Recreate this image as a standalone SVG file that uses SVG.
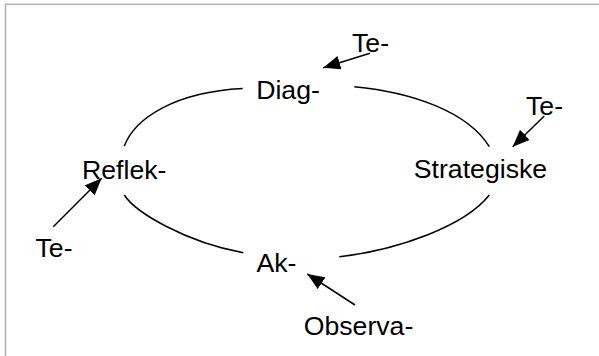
<svg xmlns="http://www.w3.org/2000/svg" width="599" height="356" viewBox="0 0 599 356">
<style>
  .t { font-family: "Liberation Sans", Arial, sans-serif; font-size: 26.67px; fill: #000; }
  .c { fill: none; stroke: #000; stroke-width: 1.5; }
  .a { fill: none; stroke: #000; stroke-width: 1.5; marker-end: url(#ah); }
  .frame { fill: none; stroke: #b3b3b3; stroke-width: 1.6; }
</style>
<defs>
  <marker id="ah" markerUnits="userSpaceOnUse" markerWidth="18" markerHeight="14" refX="17" refY="7" orient="auto">
    <path d="M0,0 L17,7 L0,14 z" fill="#000"/>
  </marker>
</defs>
<rect x="0" y="0" width="599" height="356" fill="#fff"/>
<path class="frame" d="M5.5,356 L5.5,4.3 L599,4.3"/>
<g id="connectors">
  <path class="c" d="M124.3,146 C135,118 175,92 242.7,88.5"/>
  <path class="c" d="M354.3,86.7 C412,92 468,112 489.3,146.7"/>
  <path class="c" d="M124.3,195 C135,212 185,242 243.3,252.7"/>
  <path class="c" d="M339.3,256.7 C398,250 465,226 489.3,195"/>
  <path class="a" d="M370,53.3 L323.3,67.7"/>
  <path class="a" d="M544.3,116 L512.7,146.7"/>
  <path class="a" d="M53.3,226.7 L101.7,178.3"/>
  <path class="a" d="M355,305 L307.3,274"/>
</g>
<g id="node-diag"><text class="t" x="256.2" y="99">Diag-</text></g>
<g id="node-strategiske"><text class="t" x="413.8" y="178.3">Strategiske</text></g>
<g id="node-ak"><text class="t" x="256.5" y="272.3">Ak-</text></g>
<g id="node-reflek"><text class="t" x="82" y="179.3">Reflek-</text></g>
<g id="node-te-top"><text class="t" x="352" y="52.3">Te-</text></g>
<g id="node-te-right"><text class="t" x="526" y="115">Te-</text></g>
<g id="node-te-left"><text class="t" x="35.5" y="256.7">Te-</text></g>
<g id="node-observa"><text class="t" x="303.7" y="335">Observa-</text></g>
</svg>
